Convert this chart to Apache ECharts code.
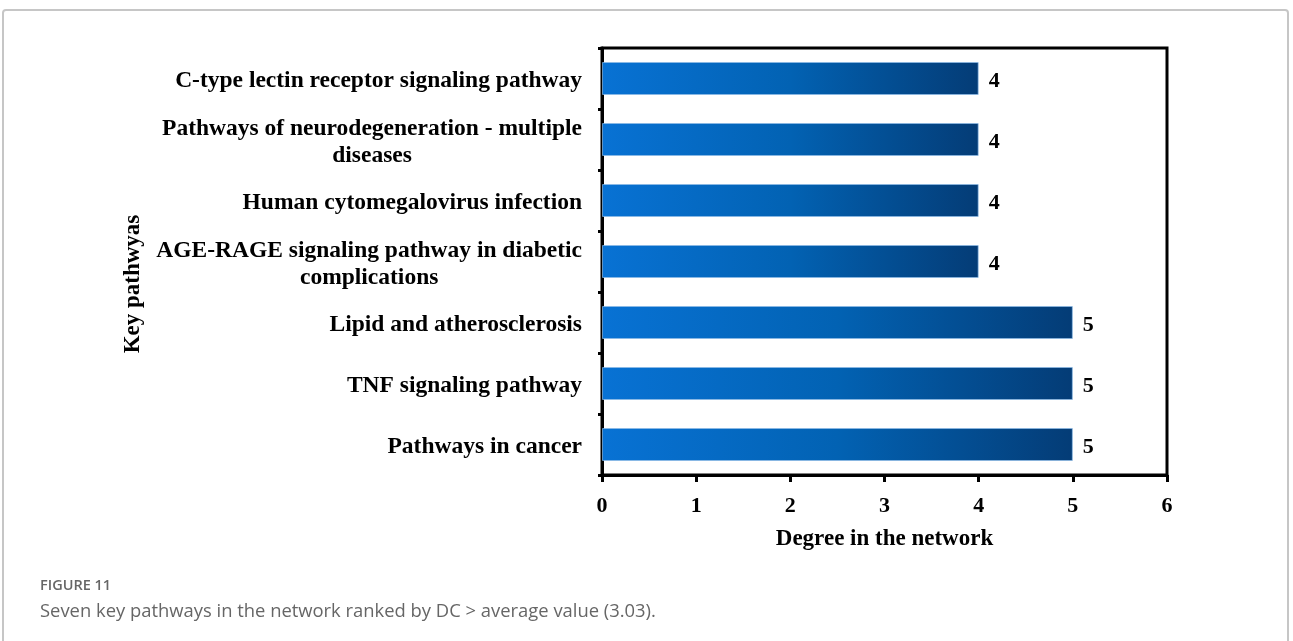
<!DOCTYPE html>
<html>
<head>
<meta charset="utf-8">
<script src="https://cdn.jsdelivr.net/npm/echarts@6/dist/echarts.min.js"></script>
<style>
html,body{margin:0;padding:0;background:#fff;}
#chart{width:1293px;height:641px;}
</style>
</head>
<body>
<div id="chart"></div>
<script>
// Data (top to bottom as shown)
const categories = [
  'C-type lectin receptor signaling pathway',
  'Pathways of neurodegeneration - multiple\ndiseases',
  'Human cytomegalovirus infection',
  'AGE-RAGE signaling pathway in diabetic\ncomplications',
  'Lipid and atherosclerosis',
  'TNF signaling pathway',
  'Pathways in cancer'
];
const degrees = [4, 4, 4, 4, 5, 5, 5];
const xTicks = [0, 1, 2, 3, 4, 5, 6];
const xAxisTitle = 'Degree in the network';
const yAxisTitle = 'Key pathwyas';
const figureLabel = 'FIGURE 11';
const captionText = 'Seven key pathways in the network ranked by DC > average value (3.03).';

const serif = '"Liberation Serif", "Times New Roman", serif';
const chart = echarts.init(document.getElementById('chart'));

chart.setOption({
  animation: false,
  backgroundColor: '#fff',
  grid: {
    left: 602, top: 48, right: 126, bottom: 166,
    show: true, borderColor: '#000', borderWidth: 3, backgroundColor: 'transparent'
  },
  xAxis: {
    type: 'value',
    min: xTicks[0], max: xTicks[xTicks.length - 1], interval: 1,
    splitLine: { show: false },
    axisLine: { show: true, lineStyle: { color: '#000', width: 3 } },
    axisTick: { show: true, inside: false, length: 7, lineStyle: { color: '#000', width: 3 } },
    axisLabel: { margin: 20, color: '#000', fontFamily: serif, fontWeight: 'bold', fontSize: 22 },
    name: xAxisTitle,
    nameLocation: 'middle',
    nameGap: 53,
    nameTextStyle: { color: '#000', fontFamily: serif, fontWeight: 'bold', fontSize: 23 }
  },
  yAxis: {
    type: 'category',
    data: categories,
    inverse: true,
    axisLine: { show: true, lineStyle: { color: '#000', width: 3 } },
    axisTick: { show: true, inside: false, length: 4, lineStyle: { color: '#000', width: 3 } },
    axisLabel: {
      margin: 20, color: '#000', fontFamily: serif, fontWeight: 'bold', fontSize: 23.5,
      align: 'right',
      padding: [5, 0, 0, 0],
      formatter: function (v) {
        return v.split('\n').map(function (l) { return '{c|' + l + '}'; }).join('\n');
      },
      rich: {
        c: { align: 'center', color: '#000', fontFamily: serif, fontWeight: 'bold', fontSize: 23.5, lineHeight: 27 }
      }
    }
  },
  series: [{
    type: 'bar',
    data: degrees,
    barWidth: 33,
    itemStyle: {
      color: new echarts.graphic.LinearGradient(0, 0, 1, 0, [
        { offset: 0, color: '#0872d4' },
        { offset: 0.5, color: '#0262b3' },
        { offset: 1, color: '#043c76' }
      ]),
      borderColor: 'rgba(140,185,230,0.7)',
      borderWidth: 1
    },
    label: {
      show: true, position: 'right', distance: 10,
      offset: [0, 3],
      color: '#000', fontFamily: serif, fontWeight: 'bold', fontSize: 22
    }
  }],
  graphic: [
    {
      type: 'rect', silent: true, z: -10,
      shape: { x: 3, y: 10, width: 1285, height: 700, r: 3 },
      style: { fill: 'none', stroke: '#c6c6c6', lineWidth: 2 }
    },
    {
      type: 'text', x: 133, y: 284, rotation: Math.PI / 2,
      style: { text: yAxisTitle, align: 'center', verticalAlign: 'middle', fill: '#000',
        font: 'bold 23px ' + serif }
    },
    {
      type: 'text', x: 40, y: 586,
      style: { text: figureLabel, align: 'left', verticalAlign: 'middle', fill: '#666',
        font: '600 14.5px "Open Sans", sans-serif' }
    },
    {
      type: 'text', x: 40, y: 612,
      style: { text: captionText, align: 'left', verticalAlign: 'middle', fill: '#666',
        font: '18.4px "Open Sans", sans-serif' }
    }
  ]
});
</script>
</body>
</html>
